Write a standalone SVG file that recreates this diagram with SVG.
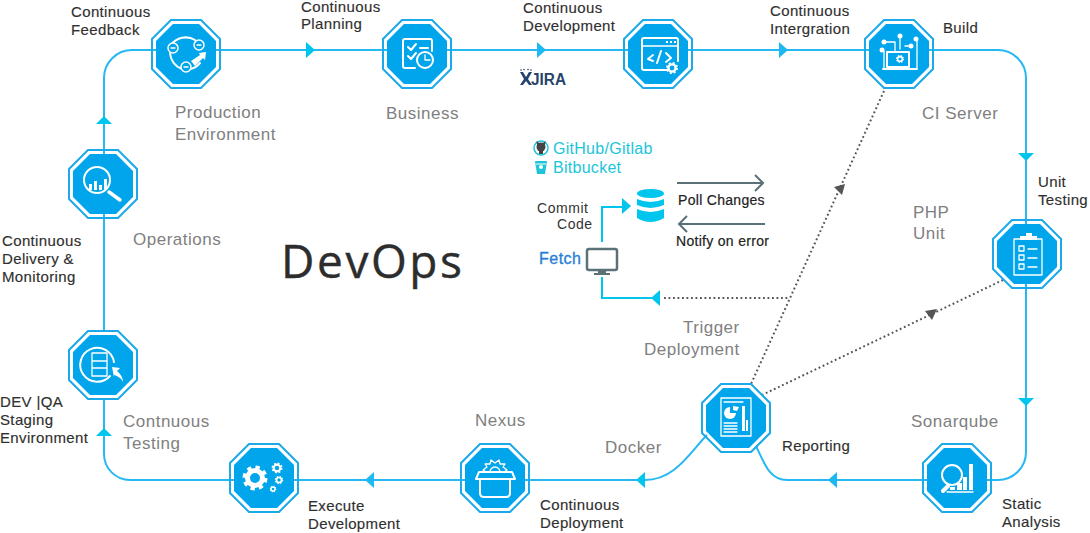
<svg xmlns="http://www.w3.org/2000/svg" xmlns:xlink="http://www.w3.org/1999/xlink" width="1090" height="533" viewBox="0 0 1090 533">
<style>
text{font-family:"Liberation Sans",Arial,sans-serif}
.b{font-size:15px;fill:#2f2f2f;letter-spacing:.36px;stroke:#2f2f2f;stroke-width:.15px}
.g{font-size:17px;fill:#808080;letter-spacing:.5px}
.c{font-size:16px;fill:#1cc5d8;letter-spacing:.28px}
.n{font-size:14px;fill:#222;letter-spacing:.3px;stroke:#222;stroke-width:.2px}
.line{fill:none;stroke:#26b8f3;stroke-width:2}
.cy{fill:none;stroke:#00c6ee;stroke-width:2}
.dot{fill:none;stroke:#555;stroke-width:2;stroke-dasharray:1.800 2.700}
.gr{fill:none;stroke:#5b7178;stroke-width:2}
.w{fill:none;stroke:#fff;stroke-width:2;stroke-linecap:round;stroke-linejoin:round}
.t{fill:none;stroke:#fff;stroke-width:1.300;stroke-linecap:round;stroke-linejoin:round}
.f{fill:#fff}
.oo{fill:none;stroke:#1ba9ea;stroke-width:2}
.oi{fill:#00a5eb}
</style>
<defs>
<g id="oct">
<polygon class="oo" points="-15,-34 15,-34 34,-15 34,15 15,34 -15,34 -34,15 -34,-15"/>
<polygon class="oi" points="-13,-30 13,-30 30,-13 30,13 13,30 -13,30 -30,13 -30,-13"/>
</g>
<g id="gear"><circle r="6" fill="none" stroke="#fff" stroke-width="4"/><circle r="8" fill="none" stroke="#fff" stroke-width="4" stroke-dasharray="3.200 3.100"/></g>
</defs>

<g id="connectors">
<path class="line" d="M104 330V78A28 28 0 0 1 132 50H998A28 28 0 0 1 1026 78V452A28 28 0 0 1 998 480H787C770 480 765 465 756 446"/>
<path class="line" d="M707 435C690 452 675 480 645 480H130A26 26 0 0 1 104 454V398"/>
<path class="dot" d="M884 91L751 384"/>
<path class="dot" d="M1003 280L762 395"/>
<path class="dot" d="M664 298H788"/>
<path class="cy" d="M602 242V207H624"/>
<path class="cy" d="M602 277V298H654"/>
<path class="gr" d="M677 183H763M755 175L763 183L755 191"/>
<path class="gr" d="M765 224H679M687 216L679 224L687 232"/>
<g fill="#00c6ee">
<polygon points="96,124 112,124 104,116"/>
<polygon points="96,436 112,436 104,428"/>
<polygon points="1018,153 1034,153 1026,161"/>
<polygon points="1018,398 1034,398 1026,406"/>
<polygon points="306,42 306,58 315,50"/>
<polygon points="622,198 622,214 631,206"/>
<polygon points="660,290 660,306 651,298"/>
<polygon points="645,472 645,488 636,480"/>
</g>
<g fill="#1eb8f5">
<polygon points="537,42 537,58 546,50"/>
<polygon points="779,42 779,58 788,50"/>
<polygon points="837,472 837,488 828,480"/>
<polygon points="374,472 374,488 365,480"/>
</g>
<polygon fill="#555" points="834,187 845,184 842,195"/>
<polygon fill="#555" points="925,311 937,309 932,320"/>
</g>

<g id="node-feedback" transform="translate(186,54)"><use xlink:href="#oct" href="#oct"/>
<path class="w" d="M-15 -9A18 18 0 0 1 9 -14M-16 -1A18 18 0 0 0 -4 15M4 15A17 17 0 0 0 14 9"/>
<path class="f" d="M5 7L14 1L13 -1L20 -2L19 6L17 4L9 12Z"/>
<circle cx="-13" cy="-6" r="5" fill="#00a5eb" stroke="#fff" stroke-width="1.500"/><path class="t" d="M-15 -6H-11"/>
<circle cx="13" cy="-9" r="5" fill="#00a5eb" stroke="#fff" stroke-width="1.500"/><path class="t" d="M11 -9H15"/>
<circle cx="0" cy="13" r="5" fill="#00a5eb" stroke="#fff" stroke-width="1.500"/><path class="t" d="M-2 13H2"/>
</g>
<g id="node-business" transform="translate(417,54)"><use xlink:href="#oct" href="#oct"/>
<path class="w" d="M-2 14H-12Q-14 14 -14 12V-13Q-14 -15 -12 -15H13Q15 -15 15 -13V-3"/>
<path class="w" d="M-9 -7L-6 -4L-1 -10M-9 2L-6 5L-1 -1M3 -6H11"/>
<circle cx="8" cy="6" r="8" fill="#00a5eb" stroke="#fff" stroke-width="2"/><path class="t" d="M8 1V6H13"/>
</g>
<g id="node-development" transform="translate(658,54)"><use xlink:href="#oct" href="#oct"/>
<path class="w" d="M11 16H-14Q-16 16 -16 14V-14Q-16 -16 -14 -16H18Q20 -16 20 -14V7"/>
<path class="t" d="M-16 -8H20" stroke-width="1.500"/>
<path class="f" d="M8 -13h2v2h-2zM12 -13h2v2h-2zM16 -13h2v2h-2z"/>
<path class="w" d="M-8 2L-13 6L-8 8M-4 10L0 -2M5 0L10 5L5 9" transform="translate(3 -1)"/>
<use xlink:href="#gear" href="#gear" transform="translate(14,14) scale(.6)"/>
</g>
<g id="node-build" transform="translate(899,54)"><use xlink:href="#oct" href="#oct"/>
<path class="t" d="M-15 -3V14M-15 -12H-4V-2M1 -5V-19M6 -8H12V-8M18 -2V-15M18 -15V14"/>
<circle class="f" cx="-15" cy="-12" r="2.500"/><circle class="f" cx="1" cy="-18" r="2.500"/><circle class="f" cx="12" cy="-8" r="2.500"/><circle class="f" cx="17" cy="-15" r="2.500"/><circle class="f" cx="-17" cy="-4" r="2.500"/>
<rect x="-12" y="-2" width="22" height="15" class="w" stroke-width="1.500"/>
<path class="w" d="M-16 15H18"/>
<use xlink:href="#gear" href="#gear" transform="translate(1,5) scale(.4)"/>
</g>
<g id="node-unit" transform="translate(1027,254)"><use xlink:href="#oct" href="#oct"/>
<rect x="-13" y="-15" width="28" height="36" class="t" stroke-width="1.600"/>
<path class="f" d="M-7 -18H-1V-21H5V-18H10V-14H-7Z"/>
<rect x="-8" y="-8" width="5" height="5" class="t"/><rect x="-8" y="1" width="5" height="5" class="t"/><rect x="-8" y="10" width="5" height="5" class="t"/>
<path class="t" d="M1 -5H10M1 4H10M1 13H10" stroke-width="1.600"/>
</g>
<g id="node-sonar" transform="translate(957,478)"><use xlink:href="#oct" href="#oct"/>
<circle cx="-5" cy="-3" r="10" class="w"/>
<path d="M-9 8L-14 13" stroke="#fff" stroke-width="4" stroke-linecap="round"/>
<path class="f" d="M-7 9H-2V12H-7ZM0 5H5V12H0ZM6 -1H10V12H6ZM12 -14H16V12H12Z"/>
<path class="t" d="M-10 14H16"/>
</g>
<g id="node-reporting" transform="translate(736,418)"><use xlink:href="#oct" href="#oct"/>
<rect x="-15" y="-20" width="30" height="38" class="t" stroke-width="1.500"/>
<path class="t" d="M-12 -16H7"/>
<circle cx="-6" cy="-5" r="6" class="f"/>
<path d="M-6 -5V-12H2V-5Z" fill="#00a5eb"/><path class="f" d="M-3 -12L3 -11L1 -7L-3 -8Z"/>
<path class="f" d="M6 -12H9V13H6ZM10 2H12V13H10Z"/>
<path class="t" d="M-12 5H1M-12 8H1M-12 11H1M-12 14H1"/>
</g>
<g id="node-nexus" transform="translate(495,478)"><use xlink:href="#oct" href="#oct"/>
<path class="w" d="M-19 1H20L17 -6H-16Z"/>
<path class="w" d="M-15 1V15Q-15 19 -11 19H11Q15 19 15 15V1"/>
<path class="t" d="M-9 -6L-12 -8L-8 -11L-10 -14L-5 -14L-4 -18L0 -15L4 -18L5 -14L10 -14L8 -11L12 -8L9 -6M-5 -6A5 5 0 0 1 5 -6" stroke-width="1.800"/>
</g>
<g id="node-execute" transform="translate(264,478)"><use xlink:href="#oct" href="#oct"/>
<use xlink:href="#gear" href="#gear" transform="translate(-9,0) scale(1.250)"/>
<use xlink:href="#gear" href="#gear" transform="translate(13,-10) scale(.55)"/>
<use xlink:href="#gear" href="#gear" transform="translate(15,2) scale(.42)"/>
<use xlink:href="#gear" href="#gear" transform="translate(9,11) scale(.33)"/>
</g>
<g id="node-staging" transform="translate(103,365)"><use xlink:href="#oct" href="#oct"/>
<path class="w" d="M7 11A17 17 0 1 1 11 -3"/>
<path class="f" d="M9 2L17 3L14 6C18 9 20 13 20 17C18 13 15 11 11 10L11 12Z"/>
<path class="t" d="M-11 -12H4V11H-11ZM-11 -4H4M-11 3H4" stroke-width="2"/>
</g>
<g id="node-monitoring" transform="translate(103,184)"><use xlink:href="#oct" href="#oct"/>
<circle cx="-6" cy="-4" r="13" class="w"/>
<path class="f" d="M-14 0H-11V6H-14ZM-9 -3H-6V6H-9ZM-4 1H-1V6H-4ZM1 -5H4V5H1Z"/>
<path d="M6 8L17 16" stroke="#fff" stroke-width="3.500" stroke-linecap="round"/>
</g>

<g id="labels">
<text class="b" x="71" y="17">Continuous</text><text class="b" x="71" y="35">Feedback</text>
<text class="b" x="301" y="12">Continuous</text><text class="b" x="301" y="29">Planning</text>
<text class="b" x="523" y="13">Continuous</text><text class="b" x="523" y="31">Development</text>
<text class="b" x="770" y="16">Continuous</text><text class="b" x="770" y="34">Intergration</text>
<text class="b" x="943" y="33">Build</text>
<text class="b" x="1038" y="187">Unit</text><text class="b" x="1038" y="205">Testing</text>
<text class="b" x="782" y="451">Reporting</text>
<text class="b" x="1002" y="509">Static</text><text class="b" x="1002" y="527">Analysis</text>
<text class="b" x="540" y="510">Continuous</text><text class="b" x="540" y="528">Deployment</text>
<text class="b" x="308" y="511">Execute</text><text class="b" x="308" y="529">Development</text>
<text class="b" x="0" y="407">DEV |QA</text><text class="b" x="0" y="425">Staging</text><text class="b" x="0" y="443">Environment</text>
<text class="b" x="2" y="246">Continuous</text><text class="b" x="2" y="264">Delivery &amp;</text><text class="b" x="2" y="282">Monitoring</text>
<text class="g" x="175" y="118">Production</text><text class="g" x="175" y="140">Environment</text>
<text class="g" x="386" y="119">Business</text>
<text class="g" x="922" y="119">CI Server</text>
<text class="g" x="913" y="218">PHP</text><text class="g" x="913" y="239">Unit</text>
<text class="g" x="133" y="245">Operations</text>
<text class="g" x="911" y="427">Sonarqube</text>
<text class="g" x="475" y="426">Nexus</text>
<text class="g" x="605" y="453">Docker</text>
<text class="g" x="123" y="427">Contnuous</text><text class="g" x="123" y="449">Testing</text>
<text class="g" x="683" y="333">Trigger</text><text class="g" x="644" y="355">Deployment</text>
<text x="281" y="278" font-size="46" fill="#2d2d2d" stroke="#2d2d2d" stroke-width=".4" letter-spacing="2.600" style="font-family:'Open Sans','Liberation Sans',sans-serif">DevOps</text>
<text class="c" x="553" y="154">GitHub/Gitlab</text>
<text class="c" x="553" y="173">Bitbucket</text>
<text x="537" y="213" font-size="14" fill="#333" letter-spacing=".55">Commit</text>
<text x="557" y="228.500" font-size="14" fill="#333" letter-spacing=".55">Code</text>
<text x="539" y="264" font-size="16" fill="#2a7fd5" stroke="#2a7fd5" stroke-width=".35" letter-spacing=".5">Fetch</text>
<text class="n" x="678" y="205">Poll Changes</text>
<text class="n" x="676" y="246">Notify on error</text>
<text x="531" y="85" font-size="16" font-weight="bold" fill="#26436b" textLength="35" lengthAdjust="spacingAndGlyphs">JIRA</text>
</g>

<g id="logos">
<path fill="#26436b" d="M520 72H523L526 77L529 72H532L528 79L532 85H529L526 81L523 85H520L524 79Z"/>
<g fill="#26436b"><circle cx="521" cy="70" r=".8"/><circle cx="524" cy="69.500" r=".8"/><circle cx="528" cy="69.500" r=".8"/><circle cx="531" cy="70" r=".8"/></g>
<circle cx="541" cy="148" r="7" fill="#fff" stroke="#1cc5d8" stroke-width="1.500"/>
<circle cx="541" cy="147" r="4.500" fill="#444"/><path fill="#444" d="M537 145L536.500 141L539 143H543L545.500 141L545 145ZM539 150H543V154H539Z"/>
<path fill="#1cc5d8" d="M535 161H547L545 174H537Z"/><circle cx="541" cy="167" r="2" fill="#fff"/><path d="M536 164H546" stroke="#fff"/>
<g fill="#00c6ee">
<ellipse cx="650.500" cy="193.500" rx="13.500" ry="4.500"/>
<path d="M637 199Q650.500 205 664 199V205Q650.500 211 637 205Z"/>
<path d="M637 209Q650.500 215 664 209V218Q650.500 226 637 218Z"/>
</g>
<rect x="587" y="249" width="30" height="21" rx="2" fill="#fff" stroke="#5b7178" stroke-width="2.500"/>
<path fill="#5b7178" d="M598 271H606V273H610V275H594V273H598Z"/>
</g>
</svg>
